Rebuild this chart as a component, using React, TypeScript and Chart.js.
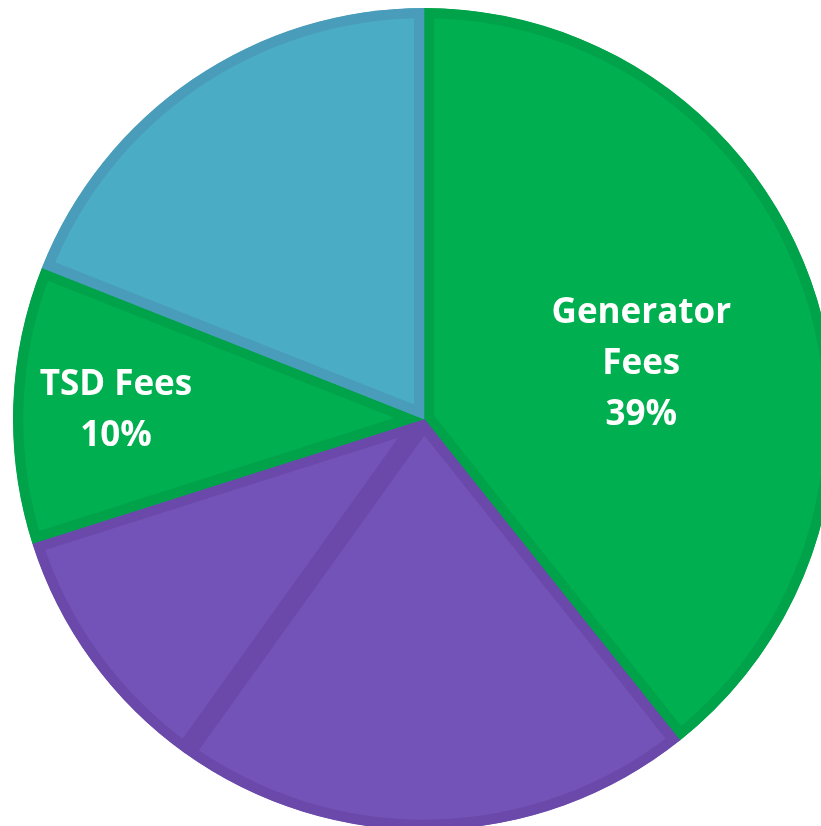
import React, { useEffect, useRef } from "react";
import { Chart, registerables } from "chart.js";

Chart.register(...registerables);

const categories = ["Generator Fees", "Fees B", "Fees C", "TSD Fees", "Fees E"];
const values = [39.3, 20.6, 10.2, 10.9, 19.0];
const fillColors = ["#00B050", "#7453B8", "#7453B8", "#00B050", "#4BACC6"];
const borderColors = ["#00A24A", "#6A49AA", "#6A49AA", "#00A24A", "#4A9DBA"];
const labelLines: (string[] | null)[] = [["Generator", "Fees", "39%"], null, null, ["TSD Fees", "10%"], null];
const labelRadius = [0.56, 0, 0, 0.75, 0];
const labelDy = [21, 0, 0, 2, 0];

const labelPlugin = {
  id: "sliceLabels",
  afterDatasetsDraw(chart: any) {
    const ctx = chart.ctx;
    const meta = chart.getDatasetMeta(0);
    ctx.save();
    ctx.fillStyle = "#FFFFFF";
    ctx.font = "bold 35px 'Open Sans'";
    ctx.textAlign = "center";
    ctx.textBaseline = "middle";
    meta.data.forEach((arc: any, i: number) => {
      const lines = labelLines[i];
      if (!lines) return;
      const p = arc.getProps(["x", "y", "startAngle", "endAngle", "outerRadius"], true);
      const mid = (p.startAngle + p.endAngle) / 2;
      const r = p.outerRadius * labelRadius[i];
      const cx = p.x + Math.cos(mid) * r;
      const cy = p.y + Math.sin(mid) * r + labelDy[i];
      const lh = 51;
      const top = cy - ((lines.length - 1) * lh) / 2;
      lines.forEach((t, k) => ctx.fillText(t, cx, top + k * lh));
    });
    ctx.restore();
  },
};

export default function App() {
  const ref = useRef<HTMLCanvasElement>(null);
  useEffect(() => {
    if (!ref.current) return;
    const chart = new Chart(ref.current, {
      type: "pie",
      data: {
        labels: categories,
        datasets: [
          {
            data: values,
            backgroundColor: fillColors,
            borderColor: borderColors,
            borderWidth: 10,
            borderAlign: "inner",
            hoverBorderWidth: 10,
          } as any,
        ],
      },
      options: {
        responsive: false,
        animation: false,
        layout: { padding: 0 },
        plugins: { legend: { display: false }, tooltip: { enabled: false } },
      },
      plugins: [labelPlugin],
    });
    return () => chart.destroy();
  }, []);
  return (
    <div style={{ position: "fixed", left: 0, top: 0, width: 821, height: 826, overflow: "hidden", background: "#fff" }}>
      <div style={{ position: "absolute", left: 13, top: 8, width: 822, height: 822 }}>
        <canvas ref={ref} width={822} height={822} style={{ width: 822, height: 822 }} />
      </div>
    </div>
  );
}
